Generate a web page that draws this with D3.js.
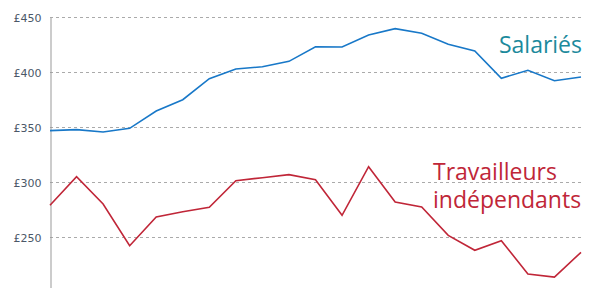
<!DOCTYPE html>
<html>
<head>
<meta charset="utf-8">
<script src="https://cdn.jsdelivr.net/npm/d3@7"></script>
<style>
  body { margin: 0; background: #fff; }
  svg { display: block; }
</style>
</head>
<body>
<div id="chart"></div>
<script>
// values, in £ per week
const periods = d3.range(21);
const salaries = [346.7, 347.6, 345.5, 348.8, 364.5, 374.8, 393.9, 402.7, 404.8, 409.7, 423, 422.7,
  433.6, 439.4, 435.2, 425.2, 419.1, 394.3, 401.5, 392.1, 395.5];
const independants = [278.8, 304.8, 280, 242.1, 268.2, 273, 277, 301.2, 303.9, 306.7, 302.1, 269.7,
  313.9, 281.8, 277.3, 251.5, 237.9, 246.7, 216.4, 213.6, 236.1];
const yTicks = [200, 250, 300, 350, 400, 450];

const W = 610, H = 288;
const margin = { top: 17, right: 29, left: 50 };
const innerW = W - margin.left - margin.right;

const svg = d3.select('#chart')
  .append('svg')
  .attr('width', W)
  .attr('height', H);

const x = d3.scaleLinear()
  .domain([0, periods.length - 1])
  .range([margin.left, margin.left + innerW]);

const y = d3.scaleLinear()
  .domain([200, 450])
  .range([margin.top + 275, margin.top]);

// gridlines
svg.append('g')
  .selectAll('line')
  .data(yTicks)
  .join('line')
  .attr('x1', margin.left)
  .attr('x2', margin.left + innerW)
  .attr('y1', d => Math.round(y(d)) + 0.5)
  .attr('y2', d => Math.round(y(d)) + 0.5)
  .attr('stroke', '#aaa')
  .attr('stroke-dasharray', '3,3');

const yAxis = svg.append('g')
  .attr('transform', `translate(${margin.left + 0.5}, 0.5)`)
  .call(d3.axisLeft(y).tickValues(yTicks).tickSize(0).tickPadding(9).tickFormat(d => '£' + d));
yAxis.select('.domain').attr('stroke', '#999');
yAxis.selectAll('text')
  .attr('font-family', 'Verdana, "DejaVu Sans", sans-serif')
  .attr('font-size', 11)
  .attr('fill', '#4b5868');

const line = d3.line()
  .x((d, i) => x(i))
  .y(d => y(d));

svg.append('path')
  .datum(salaries)
  .attr('d', line)
  .attr('fill', 'none')
  .attr('stroke', '#1878c8')
  .attr('stroke-width', 1.6);

svg.append('path')
  .datum(independants)
  .attr('d', line)
  .attr('fill', 'none')
  .attr('stroke', '#c02638')
  .attr('stroke-width', 1.6);

svg.append('text')
  .attr('x', 582)
  .attr('y', 53)
  .attr('text-anchor', 'end')
  .attr('font-family', '"Open Sans", sans-serif')
  .attr('font-size', 23)
  .attr('fill', '#1c8a9c')
  .text('Salariés');

svg.selectAll('.lbl-red')
  .data(['Travailleurs', 'indépendants'])
  .join('text')
  .attr('class', 'lbl-red')
  .attr('x', 433)
  .attr('y', (d, i) => 180 + i * 28)
  .attr('font-family', '"Open Sans", sans-serif')
  .attr('font-size', 23)
  .attr('fill', '#c02638')
  .text(d => d);
</script>
</body>
</html>
